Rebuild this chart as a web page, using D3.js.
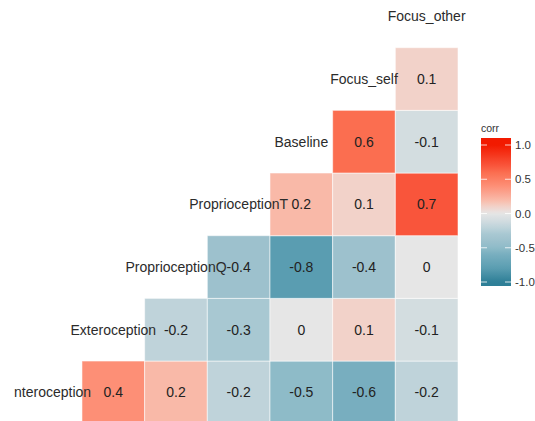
<!DOCTYPE html>
<html>
<head>
<meta charset="utf-8">
<script src="https://cdn.jsdelivr.net/npm/d3@7"></script>
<style>
  html, body { margin: 0; padding: 0; background: #ffffff; }
  svg { display: block; }
</style>
</head>
<body>
<svg id="chart" width="535" height="421"></svg>
<script>
// ---- data ----
const variables = ["Interoception", "Exteroception", "ProprioceptionQ", "ProprioceptionT", "Baseline", "Focus_self", "Focus_other"];
// correlations of each variable with the variables after it (lower triangle, row by row)
const corInteroception   = [0.4, 0.2, -0.2, -0.5, -0.6, -0.2];
const corExteroception   = [-0.2, -0.3, 0, 0.1, -0.1];
const corProprioceptionQ = [-0.4, -0.8, -0.4, 0];
const corProprioceptionT = [0.2, 0.1, 0.7];
const corBaseline        = [0.6, -0.1];
const corFocusSelf       = [0.1];
const legendTicks = [1.0, 0.5, 0.0, -0.5, -1.0];
const legendTitle = "corr";

const rows = [corInteroception, corExteroception, corProprioceptionQ, corProprioceptionT, corBaseline, corFocusSelf];

// ---- build cells ----
const cells = [];
rows.forEach((vals, r) => {
  vals.forEach((v, k) => {
    cells.push({ row: variables[r], col: variables[r + 1 + k], value: v });
  });
});

// ---- scales ----
const svg = d3.select("#chart");
const x = d3.scaleBand().domain(variables).range([19.3, 458]).padding(0);
const y = d3.scaleBand().domain(variables).range([423.7, -15]).padding(0);

const color = d3.scaleLinear()
  .domain([-1, -0.8, -0.6, -0.5, -0.4, -0.3, -0.2, -0.1, 0, 0.1, 0.2, 0.4, 0.6, 0.7, 1])
  .range(["#2e7f97", "#5a9db1", "#78aebf", "#8ebbc8", "#9dc1cd", "#a8c8d2", "#bfd3da", "#d3dde0",
          "#e6e6e6", "#f2d2c9", "#f9b9a8", "#fd8f76", "#fb6e50", "#f9553b", "#f21a00"])
  .interpolate(d3.interpolateRgb)
  .clamp(true);

const locale = d3.formatLocale({ decimal: ".", thousands: ",", grouping: [3], currency: ["", ""], minus: "-" });
const f1 = locale.format(".1f");
const fmt = v => {
  let s = f1(v);
  if (s === "0.0" || s === "-0.0") s = "0";
  return s;
};

// ---- tiles ----
svg.append("g").selectAll("rect")
  .data(cells)
  .join("rect")
  .attr("x", d => x(d.col))
  .attr("y", d => y(d.row))
  .attr("width", x.bandwidth())
  .attr("height", y.bandwidth())
  .attr("fill", d => color(d.value))
  .attr("stroke", "rgba(255,255,255,0.55)")
  .attr("stroke-width", 1);

// ---- values ----
svg.append("g").selectAll("text")
  .data(cells)
  .join("text")
  .attr("x", d => x(d.col) + x.bandwidth() / 2)
  .attr("y", d => y(d.row) + y.bandwidth() / 2)
  .attr("dy", "0.36em")
  .attr("text-anchor", "middle")
  .attr("font-family", "Liberation Sans, Arial, sans-serif")
  .attr("font-size", 14)
  .attr("fill", "#222222")
  .text(d => fmt(d.value));

// ---- diagonal variable labels ----
svg.append("defs").append("clipPath").attr("id", "lblclip")
  .append("rect").attr("x", 14).attr("y", 0).attr("width", 521).attr("height", 421);

svg.append("g").attr("clip-path", "url(#lblclip)")
  .selectAll("text")
  .data(variables)
  .join("text")
  .attr("x", d => x(d) + x.bandwidth() / 2)
  .attr("y", d => y(d) + y.bandwidth() / 2)
  .attr("dy", "0.36em")
  .attr("text-anchor", "middle")
  .attr("font-family", "Liberation Sans, Arial, sans-serif")
  .attr("font-size", 14)
  .attr("fill", "#2b2b2b")
  .text(d => d);

// ---- legend ----
const barX = 481, barW = 30, barTop = 138, barBottom = 286;
const ly = d3.scaleLinear().domain([-1, 1]).range([282, 145]);

const grad = svg.select("defs").append("linearGradient")
  .attr("id", "corrgrad")
  .attr("x1", 0).attr("y1", barBottom).attr("x2", 0).attr("y2", barTop)
  .attr("gradientUnits", "userSpaceOnUse");
d3.range(0, 61).forEach(i => {
  const yy = barBottom - (barBottom - barTop) * i / 60;
  grad.append("stop")
    .attr("offset", (i / 60))
    .attr("stop-color", color(ly.invert(yy)));
});

svg.append("text")
  .attr("x", barX).attr("y", 132)
  .attr("font-family", "Liberation Sans, Arial, sans-serif")
  .attr("font-size", 10.5)
  .attr("fill", "#333333")
  .text(legendTitle);

svg.append("rect")
  .attr("x", barX).attr("y", barTop)
  .attr("width", barW).attr("height", barBottom - barTop)
  .attr("fill", "url(#corrgrad)");

const tickG = svg.append("g");
tickG.selectAll("line.l")
  .data(legendTicks)
  .join("line")
  .attr("class", "l")
  .attr("x1", barX).attr("x2", barX + 6)
  .attr("y1", d => ly(d)).attr("y2", d => ly(d))
  .attr("stroke", "white").attr("stroke-width", 0.8);
tickG.selectAll("line.r")
  .data(legendTicks)
  .join("line")
  .attr("class", "r")
  .attr("x1", barX + barW - 6).attr("x2", barX + barW)
  .attr("y1", d => ly(d)).attr("y2", d => ly(d))
  .attr("stroke", "white").attr("stroke-width", 0.8);

svg.append("g").selectAll("text")
  .data(legendTicks)
  .join("text")
  .attr("x", 515)
  .attr("y", d => ly(d))
  .attr("dy", "0.36em")
  .attr("font-family", "Liberation Sans, Arial, sans-serif")
  .attr("font-size", 11.5)
  .attr("fill", "#333333")
  .text(d => f1(d));
</script>
</body>
</html>
